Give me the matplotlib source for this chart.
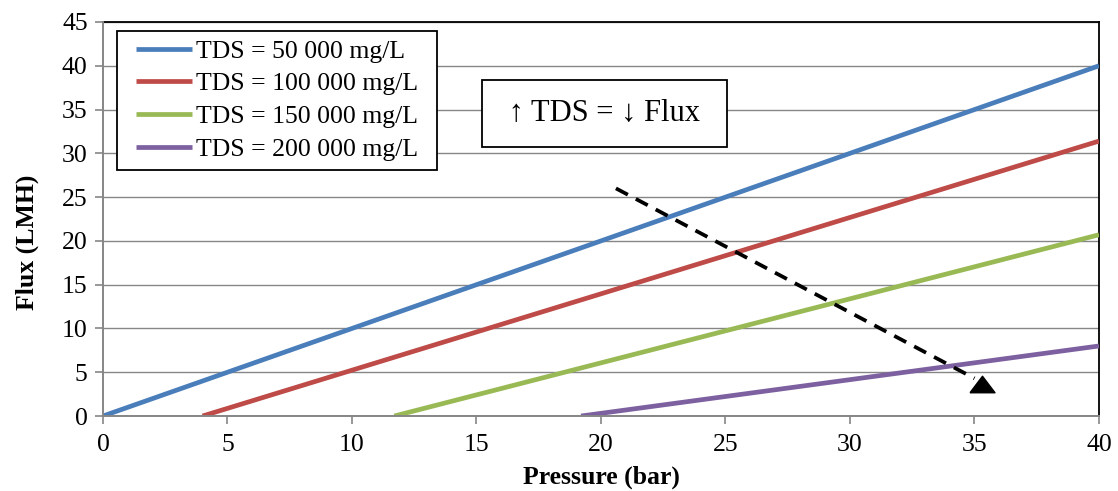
import numpy as np
import matplotlib.pyplot as plt
from matplotlib.patches import Rectangle

plt.rcParams['font.family'] = ['Liberation Serif', 'DejaVu Serif', 'DejaVu Sans']

# series: (pressure, flux) end points
labels = ['TDS = 50 000 mg/L', 'TDS = 100 000 mg/L',
          'TDS = 150 000 mg/L', 'TDS = 200 000 mg/L']
p_50k = [0, 40]
f_50k = [0, 40]
p_100k = [4.0, 40]
f_100k = [0, 31.4]
p_150k = [11.7, 40]
f_150k = [0, 20.7]
p_200k = [19.2, 40]
f_200k = [0, 8.0]
colors = ['#4A7EBB', '#BE4B48', '#98B954', '#7D60A0']

# dashed trend arrow
arrow_x = [20.6, 35.0]
arrow_y = [26.0, 4.3]
head_x = [35.3]
head_y = [3.7]

fs = 18.5

fig = plt.figure(figsize=(11.18, 4.91), dpi=100)
ax = fig.add_axes([0.0921, 0.1527, 0.8909, 0.8025])

series = [(p_50k, f_50k), (p_100k, f_100k), (p_150k, f_150k), (p_200k, f_200k)]
for (p, f), c, lab in zip(series, colors, labels):
    ax.plot(p, f, color=c, lw=3.4, label=lab, solid_capstyle='butt', zorder=3)

ax.plot(arrow_x, arrow_y, color='black', lw=2.7, dashes=(3.6, 2.4), zorder=4)
tri = [(-0.5, -0.33), (0.5, -0.33), (0, 0.33), (-0.5, -0.33)]
ax.plot(head_x, head_y, marker=tri, color='black', ms=18, ls='none', zorder=4)

ax.set_xlim(0, 40)
ax.set_ylim(0, 45)
ax.set_xticks(np.arange(0, 41, 5))
ax.set_yticks(np.arange(0, 46, 5))
ax.grid(axis='y', color='#868686', lw=1.0, zorder=1)
ax.set_axisbelow(True)

for side in ['top', 'right']:
    ax.spines[side].set_color('black')
    ax.spines[side].set_linewidth(1.3)
for side in ['left', 'bottom']:
    ax.spines[side].set_color('#868686')
    ax.spines[side].set_linewidth(1.4)
    ax.spines[side].set_zorder(5)

ax.tick_params(axis='both', direction='out', length=6, width=1.2, color='#868686',
               labelsize=fs, pad=5)
ax.tick_params(axis='x', pad=7)

ax.set_xlabel('Pressure (bar)', fontsize=fs, fontweight='bold')
ax.set_ylabel('Flux (LMH)', fontsize=fs, fontweight='bold')
ax.xaxis.set_label_coords(0.5, -0.125)
ax.yaxis.set_label_coords(-0.064, 0.44)

# legend without frame, frame drawn by hand with wider side padding
leg = ax.legend(loc='upper left', bbox_to_anchor=(0.033, 0.955), fontsize=fs,
                frameon=False, handlelength=2.2, handletextpad=0.15,
                labelspacing=0.38, borderpad=0, borderaxespad=0)
leg.set_zorder(6)
fig.canvas.draw()
bb = leg.get_window_extent()
padx, pady = 19, 9
frame = Rectangle((bb.x0 - padx, bb.y0 - pady), bb.width + 2 * padx, bb.height + 2 * pady,
                  transform=None, fc='white', ec='black', lw=1.3, zorder=5)
ax.add_artist(frame)

ax.text(0.5035, 0.768, ' \u2191 TDS = \u2193 Flux ', transform=ax.transAxes,
        ha='center', va='center', fontsize=22, zorder=6,
        bbox=dict(boxstyle='square,pad=0.62', fc='white', ec='black', lw=1.3))

fig.savefig('out.png', dpi=100)
